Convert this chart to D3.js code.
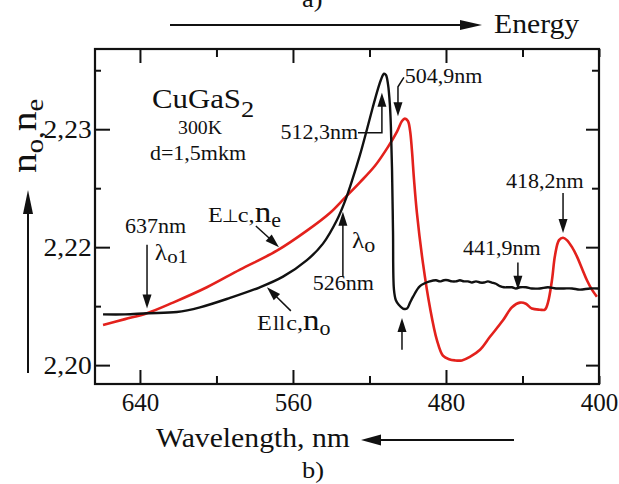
<!DOCTYPE html>
<html><head><meta charset="utf-8">
<script src="https://cdn.jsdelivr.net/npm/d3@7"></script>
<style>body{margin:0;background:#fff} svg{display:block}</style>
</head><body><svg id="c" width="619" height="484"></svg>
<script>
// ---- data (wavelength in nm, refractive index) ----
const blackNm = [659.3,647.8,636.3,620.7,608.6,592.9,577.3,565.2,552.7,544.3,537.0,532.8,529.2,525.0,521.3,518.2,515.6,514.0,512.4,511.4,510.3,509.3,508.8,508.2,507.7,507.2,506.2,504.6,502.5,500.4,498.8,497.2,493.6,488.4,485.2,483.2,481.1,479.0,476.9,474.8,472.7,470.6,468.5,466.4,464.3,462.2,460.1,458.1,456.0,453.9,451.8,449.7,447.6,445.5,443.4,441.3,438.2,435.1,430.9,426.7,422.5,418.3,414.1,410.0,404.7,400.5];
const blackN  = [2.2143,2.2143,2.2144,2.2145,2.2149,2.2157,2.2166,2.2175,2.2189,2.2203,2.2223,2.2239,2.2256,2.2278,2.2300,2.2319,2.2334,2.2342,2.2347,2.2346,2.2338,2.2320,2.2302,2.2265,2.2214,2.2164,2.2155,2.2151,2.2148,2.2148,2.2153,2.2158,2.2167,2.2171,2.2172,2.2171,2.2172,2.2172,2.2171,2.2171,2.2172,2.2171,2.2171,2.2170,2.2171,2.2170,2.2170,2.2171,2.2170,2.2169,2.2167,2.2166,2.2166,2.2166,2.2165,2.2166,2.2166,2.2165,2.2165,2.2166,2.2165,2.2165,2.2165,2.2164,2.2165,2.2165];
const redNm = [659.3,647.8,636.3,622.7,605.0,587.7,568.4,552.7,540.7,532.8,525.0,517.1,510.3,505.6,503.0,501.5,499.9,498.8,497.8,496.7,495.2,492.0,488.4,484.7,481.6,478.4,475.3,471.7,467.5,462.2,457.0,450.2,445.5,441.3,438.2,435.1,430.9,428.3,426.7,424.6,423.0,420.9,418.8,416.8,414.1,411.5,408.9,406.3,403.7,401.1];
const redN  = [2.2134,2.2139,2.2144,2.2153,2.2166,2.2181,2.2197,2.2214,2.2229,2.2242,2.2255,2.2269,2.2285,2.2298,2.2307,2.2309,2.2307,2.2299,2.2282,2.2257,2.2229,2.2186,2.2149,2.2121,2.2108,2.2105,2.2104,2.2104,2.2107,2.2113,2.2124,2.2138,2.2149,2.2153,2.2152,2.2148,2.2147,2.2147,2.2153,2.2172,2.2193,2.2206,2.2208,2.2206,2.2200,2.2192,2.2182,2.2172,2.2164,2.2158];
const xTickValues = [640,600,560,520,480,440,400];
const xTickLabels = ["640","","560","","480","","400"];
const xMajor = [640,560,480];
const yTickValues = [2.21,2.22,2.23];
const yTickLabels = ["2,20","2,22","2,23"];
const yMinorValues = [2.215,2.225,2.235];

// ---- layout ----
const L = 95, R = 599, T = 49, B = 384;
const SX = 1.1;
const FONT = "'Liberation Serif','Times New Roman',serif";
const RED = "#e3211c";

const svg = d3.select("#c");
const x = d3.scaleLinear().domain([663.5, 400]).range([L, R]);
const y = d3.scaleLinear().domain([2.2084, 2.2368]).range([B, T]);

// text helper: parts = [[str, size, dy, dx, family], ...]
function txt(px, py, parts, anchor, extraTransform) {
  const t = svg.append("text")
    .attr("transform", `translate(${px},${py}) ${extraTransform||""} scale(${SX},1)`)
    .attr("font-family", FONT).attr("fill", "#111")
    .attr("text-anchor", anchor || "start");
  parts.forEach(p => {
    const s = t.append("tspan").attr("font-size", p[1]).attr("dy", p[2] || 0).attr("dx", p[3] || 0).text(p[0]);
    if (p[4]) s.attr("font-family", p[4]);
  });
  return t;
}
function arrow(pts, hl, hw, sw) {
  hl = hl || 14; hw = hw || 4.5; sw = sw || 1.5;
  const n = pts.length, [x1, y1] = pts[n - 2], [x2, y2] = pts[n - 1];
  const a = Math.atan2(y2 - y1, x2 - x1);
  const bx = x2 - hl * Math.cos(a), by = y2 - hl * Math.sin(a);
  const line = pts.slice(0, n - 1).concat([[bx + 2 * Math.cos(a), by + 2 * Math.sin(a)]]);
  svg.append("path").attr("d", d3.line()(line)).attr("fill", "none")
    .attr("stroke", "#111").attr("stroke-width", sw);
  const px = -Math.sin(a), py = Math.cos(a);
  svg.append("path").attr("d", d3.line()([[x2, y2], [bx + hw * px, by + hw * py], [bx - hw * px, by - hw * py]]) + "Z")
    .attr("fill", "#111");
}
const P = (nm, n) => [x(nm), y(n)];

// ---- axes (inward ticks) ----
function styleAxis(g) {
  g.select(".domain").remove();
  g.selectAll("line").attr("stroke", "#111").attr("stroke-width", 2);
  g.selectAll("text").attr("font-family", FONT).attr("font-size", 25).attr("fill", "#111");
}
svg.append("g").attr("transform", `translate(0,${B})`)
  .call(d3.axisBottom(x).tickValues(xTickValues).tickSize(0).tickPadding(9).tickFormat((d, i) => xTickLabels[i]))
  .call(styleAxis);
svg.append("g").attr("transform", `translate(0,${B})`)
  .call(d3.axisBottom(x).tickValues(xTickValues).tickFormat("").tickSizeInner(0).tickSizeOuter(0))
  .call(g => g.selectAll(".tick line").attr("y2", d => xMajor.includes(d) ? -14 : -8))
  .call(styleAxis);
svg.append("g").attr("transform", `translate(0,${T})`)
  .call(d3.axisTop(x).tickValues(xTickValues).tickFormat("").tickSizeOuter(0))
  .call(g => g.selectAll(".tick line").attr("y2", d => xMajor.includes(d) ? 14 : 8))
  .call(styleAxis);
svg.append("g").attr("transform", `translate(${L},0)`)
  .call(d3.axisLeft(y).tickValues(yTickValues).tickSize(-15).tickPadding(3).tickFormat((d, i) => yTickLabels[i]))
  .call(styleAxis)
  .call(g => g.selectAll("text").attr("transform", `scale(${SX},1)`));
svg.append("g").attr("transform", `translate(${L},0)`)
  .call(d3.axisLeft(y).tickValues(yMinorValues).tickSize(-6).tickFormat(""))
  .call(styleAxis);
svg.append("g").attr("transform", `translate(${R},0)`)
  .call(d3.axisRight(y).tickValues(yTickValues).tickSize(-13).tickFormat(""))
  .call(styleAxis);
svg.append("g").attr("transform", `translate(${R},0)`)
  .call(d3.axisRight(y).tickValues(yMinorValues).tickSize(-7).tickFormat(""))
  .call(styleAxis);
svg.append("rect").attr("x", L).attr("y", T).attr("width", R - L).attr("height", B - T)
  .attr("fill", "none").attr("stroke", "#111").attr("stroke-width", 2.2);

// ---- curves ----
const line = d3.line().x(d => x(d[0])).y(d => y(d[1])).curve(d3.curveCatmullRom.alpha(0.5));
svg.append("path").datum(redNm.map((v, i) => [v, redN[i]]))
  .attr("d", line).attr("fill", "none").attr("stroke", RED).attr("stroke-width", 2.6)
  .attr("stroke-linejoin", "round");
svg.append("path").datum(blackNm.map((v, i) => [v, blackN[i]]))
  .attr("d", line).attr("fill", "none").attr("stroke", "#111").attr("stroke-width", 2.4)
  .attr("stroke-linejoin", "round");

// ---- annotations (data coordinates) ----
arrow([P(636.3, 2.2202), P(636.3, 2.2148)]);
arrow([P(579.4, 2.2218), P(567.3, 2.2200)]);
arrow([P(561.1, 2.2146), P(573.6, 2.2166)]);
arrow([P(533.9, 2.2175), P(533.9, 2.2230)]);
arrow([P(526.0, 2.2297), P(513.5, 2.2297), P(513.5, 2.2331)]);
arrow([P(502.0, 2.2344), P(505.1, 2.2336), P(505.1, 2.2311)]);
arrow([P(442.4, 2.2187), P(442.4, 2.2164)]);
arrow([P(418.8, 2.2246), P(418.8, 2.2212)]);
arrow([P(503.0, 2.2113), P(503.0, 2.2140)]);

txt(...P(647.8, 2.2212), [["637nm", 20]]);
txt(...P(632.2, 2.2189), [["λ", 23], ["o1", 19, 3]]);
txt(...P(604.4, 2.2221), [["E", 22], ["⊥", 18, 0, -1, "'DejaVu Sans',sans-serif"], ["c,", 22, 0, -1], ["n", 30], ["e", 20, 5]]);
txt(...P(578.8, 2.2130), [["E", 22], ["ll", 20, 0, 1], ["c,", 22, 0, 1], ["n", 30], ["o", 20, 5]]);
txt(...P(529.2, 2.2199), [["λ", 23], ["o", 20, 4]]);
txt(...P(549.6, 2.2164), [["526nm", 20]]);
txt(...P(526.0, 2.2292), [["512,3nm", 20]], "end");
txt(...P(501.5, 2.2339), [["504,9nm", 20]]);
txt(...P(471.1, 2.2193), [["441,9nm", 20]]);
txt(...P(448.6, 2.2250), [["418,2nm", 20]]);
txt(...P(633.7, 2.2318), [["CuGaS", 28], ["2", 24, 9]]);
txt(...P(620.1, 2.2296), [["300K", 18]]);
txt(...P(634.8, 2.2274), [["d=1,5mkm", 20]]);

// ---- outer decorations ----
arrow([[170, 25], [482, 25]], 22, 5, 2);
txt(494, 33, [["Energy", 27]]);
arrow([[514, 440], [361, 440]], 20, 5.5, 2);
txt(156, 447, [["Wavelength, nm", 27]]);
arrow([[28, 373], [28, 190]], 24, 5, 2);
txt(36, 173, [["n", 36], ["o", 26, 7], [",", 28, 0], ["n", 36, -7], ["e", 26, 7]], "start", "rotate(-90)");
txt(302, 478, [["b)", 24]]);
txt(302, 7, [["a)", 24]]);
</script></body></html>
